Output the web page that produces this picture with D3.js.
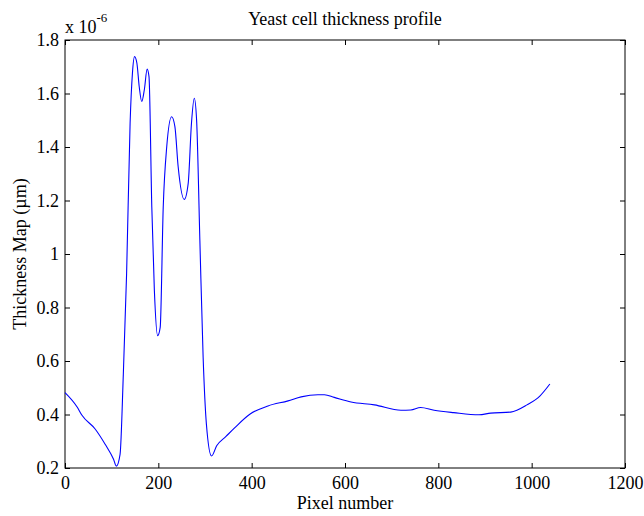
<!DOCTYPE html>
<html><head><meta charset="utf-8">
<script src="https://cdn.jsdelivr.net/npm/d3@7"></script>
<style>body{margin:0;background:#fff}svg{display:block}text{font-family:"Liberation Serif","Times New Roman",serif;fill:#000}</style>
</head><body><svg id="c" width="644" height="516"></svg>
<script>
const pixelNumber = [0,26,36,65,86,104,110,118,125,132,139.5,144.5,149,154,159,164.5,170,176,180,186,191.5,198.5,204,210.5,218,228.5,235.5,242.5,255.5,264,271,277,282,289,296,303,314,325,345,364,396,435,478,506,542,556,577,613,663,720,741,762,791,833,887,912,955,990,1018,1039];
const thickness = [0.482,0.428,0.398,0.345,0.289,0.233,0.207,0.251,0.551,0.926,1.489,1.676,1.738,1.714,1.626,1.570,1.614,1.691,1.663,1.176,0.864,0.695,0.726,1.176,1.401,1.513,1.476,1.326,1.204,1.264,1.489,1.582,1.501,1.051,0.614,0.364,0.245,0.283,0.318,0.351,0.401,0.432,0.451,0.466,0.474,0.474,0.464,0.447,0.436,0.416,0.417,0.426,0.416,0.407,0.399,0.405,0.409,0.436,0.470,0.514];
const xTicks = [0,200,400,600,800,1000,1200];
const yTicks = [0.2,0.4,0.6,0.8,1,1.2,1.4,1.6,1.8];
const titleText = "Yeast cell thickness profile";
const xLabel = "Pixel number";
const yLabel = "Thickness Map (\u00b5m)";

const L=65,R=625,T=40,B=468;
const svg=d3.select("#c");
const x=d3.scaleLinear().domain([0,1200]).range([L,R]);
const y=d3.scaleLinear().domain([0.2,1.8]).range([B,T]);
const fs=18;

svg.append("rect").attr("x",L).attr("y",T).attr("width",R-L).attr("height",B-T).attr("fill","none").attr("stroke","#000").attr("stroke-width",1);

const fmt=d=>d===1?"1":String(d);
const gxb=svg.append("g").attr("transform",`translate(0,${B})`).call(d3.axisBottom(x).tickValues(xTicks).tickSize(-5).tickPadding(8).tickFormat(d3.format("d")));
const gxt=svg.append("g").attr("transform",`translate(0,${T})`).call(d3.axisTop(x).tickValues(xTicks).tickSize(-5).tickFormat(""));
const gyl=svg.append("g").attr("transform",`translate(${L},0)`).call(d3.axisLeft(y).tickValues(yTicks).tickSize(-5).tickPadding(6).tickFormat(fmt));
const gyr=svg.append("g").attr("transform",`translate(${R},0)`).call(d3.axisRight(y).tickValues(yTicks).tickSize(-5).tickFormat(""));
[gxb,gxt,gyl,gyr].forEach(g=>{g.select(".domain").remove();g.selectAll("line").attr("stroke","#000");g.selectAll("text").style("font-family",'"Liberation Serif",serif').style("font-size",fs+"px").attr("fill","#000");});

const line=d3.line().x((d,i)=>x(pixelNumber[i])).y(d=>y(d)).curve(d3.curveMonotoneX);
svg.append("path").attr("d",line(thickness)).attr("fill","none").attr("stroke","#0000ff").attr("stroke-width",1.1);

svg.append("text").attr("x",(L+R)/2).attr("y",25).attr("text-anchor","middle").style("font-size",fs+"px").text(titleText);
svg.append("text").attr("x",(L+R)/2).attr("y",509).attr("text-anchor","middle").style("font-size",fs+"px").text(xLabel);
svg.append("text").attr("transform",`translate(26,${(T+B)/2}) rotate(-90)`).attr("text-anchor","middle").style("font-size",fs+"px").text(yLabel);
const ex=svg.append("text").attr("x",65).attr("y",33).style("font-size",fs+"px");
ex.append("tspan").text("x 10");
ex.append("tspan").attr("dy",-11).style("font-size","13px").text("-6");
</script></body></html>
